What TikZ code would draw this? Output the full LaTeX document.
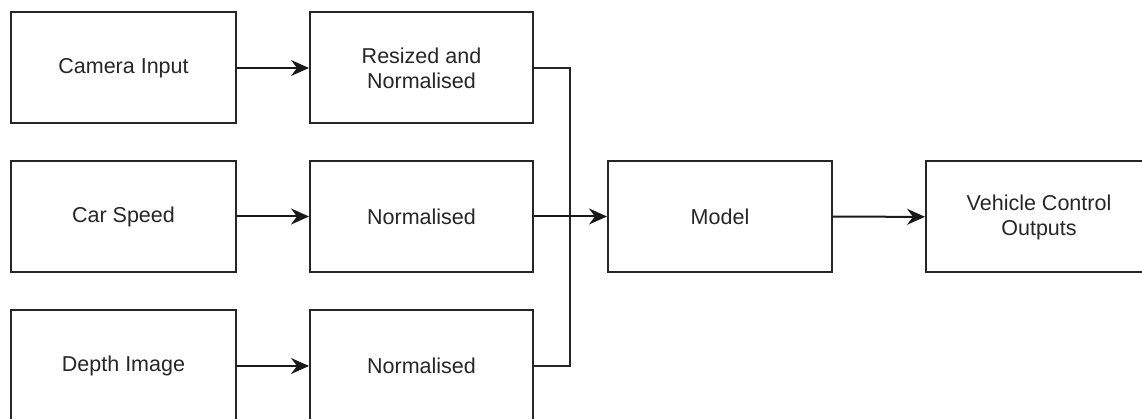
\documentclass[tikz,border=0pt]{standalone}
\usepackage{fontspec}
\setmainfont{Liberation Sans}
\usetikzlibrary{arrows.meta}
\begin{document}
\begin{tikzpicture}[x=1pt,y=-1pt,
  blk/.style={draw=black!85, line width=2pt, minimum width=225pt, minimum height=111pt,
    inner sep=0pt, align=center, font=\fontsize{21.5}{25}\selectfont, text=black!85},
  arr/.style={draw=black!90, line width=2pt, -{Stealth[length=18pt,width=16pt,inset=6pt]}},
  ln/.style={draw=black!85, line width=2pt}]
\clip (0,0) rectangle (1142,419);
\fill[white] (0,0) rectangle (1142,419);
\node[blk] (cam) at (123.5,68) {Camera Input};
\node[blk, minimum width=223pt] (res) at (421.5,68) {Resized and\\Normalised};
\node[blk] (spd) at (123.5,216.5) {Car Speed};
\node[blk, minimum width=223pt] (nm) at (421.5,216.5) {Normalised};
\node[blk] (dep) at (123.5,366) {Depth Image};
\node[blk, minimum width=223pt] (nb) at (421.5,366) {Normalised};
\node[blk, minimum width=224pt] (mod) at (720,216.5) {Model};
\node[blk, minimum width=250pt, anchor=west] (veh) at (925,217) {\hspace*{-24pt}Vehicle Control\\\hspace*{-24pt}Outputs};
\coordinate (bus) at (570,0);
\draw[arr] (cam) -- (res);
\draw[arr] (spd) -- (nm);
\draw[arr] (dep) -- (nb);
\draw[ln] (res.east) -- (res.east -| bus) -- (nb.east -| bus) -- (nb.east);
\draw[arr] (nm) -- (mod);
\draw[arr] (mod) -- (veh);
\end{tikzpicture}
\end{document}
